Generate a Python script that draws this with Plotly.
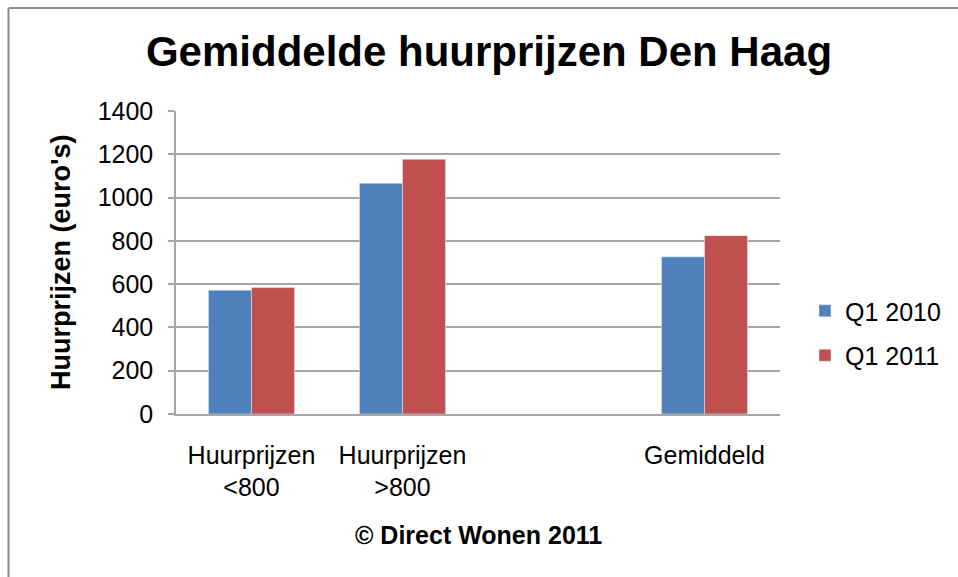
import plotly.graph_objects as go

categories = ["Huurprijzen<br>&lt;800", "Huurprijzen<br>&gt;800", " ", "Gemiddeld"]
q1_2010 = [572, 1066, None, 726]
q1_2011 = [584, 1177, None, 824]
series_names = ["Q1 2010", "Q1 2011"]
y_ticks = [0, 200, 400, 600, 800, 1000, 1200, 1400]

BLUE = "#4F81BD"
RED = "#C0504D"
GRID = "#A6A6A6"
FONT = "Liberation Sans, Arial, sans-serif"

W, H = 958, 577
L, R, T, B = 176, 178, 111, 163
PW, PH = W - L - R, H - T - B

def px_x(x):
    return (x - L) / PW

def px_y(y):
    return (H - B - y) / PH

fig = go.Figure()
fig.add_trace(go.Bar(x=categories, y=q1_2010, name=series_names[0], marker_color=BLUE,
                     legendgroup="a"))
fig.add_trace(go.Bar(x=categories, y=q1_2011, name=series_names[1], marker_color=RED,
                     legendgroup="b"))

fig.update_layout(
    width=W, height=H,
    margin=dict(l=L, r=R, t=T, b=B, autoexpand=False),
    paper_bgcolor="white", plot_bgcolor="white",
    barmode="group", bargap=0.43, bargroupgap=0,
    font=dict(family=FONT, color="black"),
    title=dict(text="<b>Gemiddelde huurprijzen Den Haag</b>",
               font=dict(size=42, family=FONT, color="black"),
               x=px_x(489), xref="paper", xanchor="center",
               y=1 - 51 / H, yref="container", yanchor="middle"),
    legend=dict(x=px_x(805), xanchor="left", y=px_y(333), yanchor="middle",
                font=dict(size=25, family=FONT), tracegroupgap=9,
                bgcolor="rgba(0,0,0,0)", borderwidth=0),
    showlegend=True,
)

fig.update_xaxes(
    type="category", showgrid=False, showline=True, linecolor=GRID, linewidth=1.5,
    ticks="", tickfont=dict(size=25, family=FONT), ticklabelstandoff=18,
    automargin=False,
)
fig.update_yaxes(
    range=[0, 1400], tickvals=y_ticks, showgrid=True, gridcolor=GRID, gridwidth=1.5,
    showline=True, linecolor=GRID, linewidth=1.5, ticks="outside", ticklen=6,
    tickcolor=GRID, tickwidth=1.5, tickfont=dict(size=25, family=FONT),
    ticklabelstandoff=10, zeroline=False, automargin=False,
)

fig.add_annotation(text="<b>Huurprijzen (euro's)</b>", textangle=-90,
                   x=px_x(61), y=px_y(263), xref="paper", yref="paper",
                   xanchor="center", yanchor="middle",
                   showarrow=False, font=dict(size=27, family=FONT))
fig.add_annotation(text="<b>© Direct Wonen 2011</b>",
                   x=px_x(478), y=px_y(535), xref="paper", yref="paper",
                   xanchor="center", yanchor="middle",
                   showarrow=False, font=dict(size=25, family=FONT))

# outer chart border (left and top edges visible)
fig.add_shape(type="line", xref="paper", yref="paper",
              x0=px_x(8.5), x1=px_x(8.5), y0=px_y(600), y1=px_y(8),
              line=dict(color="#8C8C8C", width=2))
fig.add_shape(type="line", xref="paper", yref="paper",
              x0=px_x(8.5), x1=px_x(980), y0=px_y(8), y1=px_y(8),
              line=dict(color="#8C8C8C", width=2))

fig.write_html("out.html", config={"displayModeBar": False},
               post_script="document.body.style.margin='0';document.body.style.overflow='hidden';")
